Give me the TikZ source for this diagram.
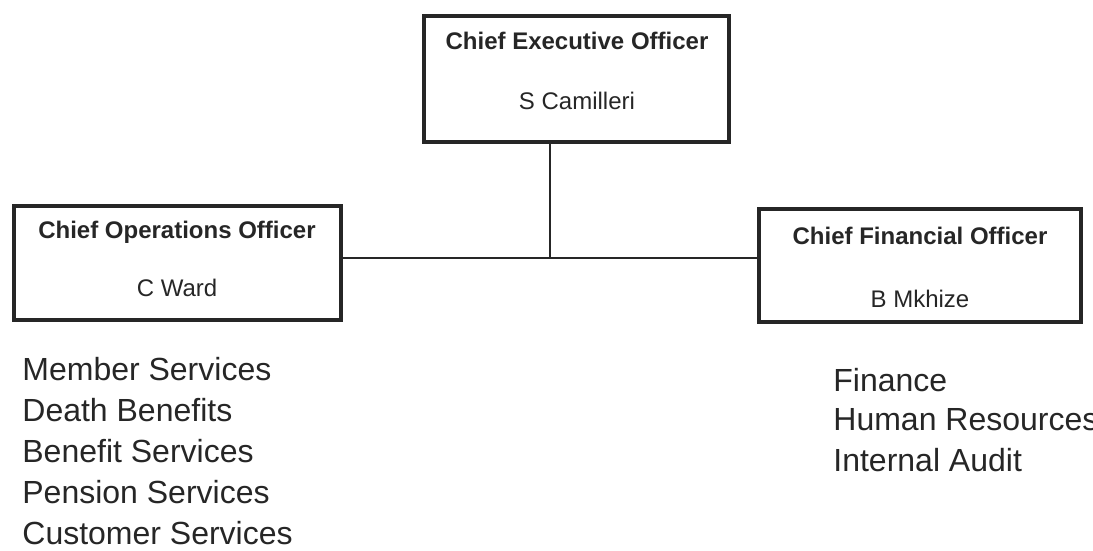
\documentclass[tikz,border=0pt]{standalone}
\usepackage{fontspec}
\setmainfont{Liberation Sans}
\usepackage{xcolor}
\usetikzlibrary{positioning, calc}

\definecolor{ink}{HTML}{262626}

\tikzset{
  postbox/.style={draw=ink, line width=2.4pt, minimum width=#1, inner sep=0pt},
  posttitle/.style={font=\fontsize{12}{14}\selectfont\bfseries, text=ink},
  postname/.style={font=\fontsize{12}{14}\selectfont, text=ink},
  dept/.style={font=\fontsize{16}{19}\selectfont, text=ink, anchor=west, inner sep=0pt},
  link/.style={draw=ink, line width=0.8pt}
}

\begin{document}
\begin{tikzpicture}[x=0.5pt, y=-0.5pt]
  \useasboundingbox (0,0) rectangle (1093,551);

  % the three officer boxes
  \node[postbox=152.5pt, minimum height=63pt]   (ceo) at (576.5,79)  {};
  \node[postbox=163.5pt, minimum height=57pt]   (coo) at (177.5,263) {};
  \node[postbox=161pt,   minimum height=56.5pt] (cfo) at (920,265.5) {};

  \node[posttitle] (ceo-t) at (577,41)  {Chief Executive Officer};
  \node[postname]  (ceo-n) at (577,101) {S Camilleri};
  \node[posttitle] (coo-t) at (177,232) {Chief Operations Officer};
  \node[postname]  (coo-n) at (177,288) {C Ward};
  \node[posttitle] (cfo-t) at (920,236) {Chief Financial Officer};
  \node[postname]  (cfo-n) at (920,299) {B Mkhize};

  % reporting lines
  \coordinate (j) at (550,258);
  \draw[link] (ceo.south -| j) -- (j);
  \draw[link] (coo.east |- j) -- (cfo.west |- j);

  % departments
  \foreach \d [count=\i] in {Member Services, Death Benefits, Benefit Services,
                             Pension Services, Customer Services} {
    \node[dept] (ops-\i) at (22,328+41*\i) {\d};
  }
  \foreach \d [count=\i] in {Finance, Human Resources, Internal Audit} {
    \node[dept] (fin-\i) at (833,340+40*\i) {\d};
  }
\end{tikzpicture}
\end{document}
